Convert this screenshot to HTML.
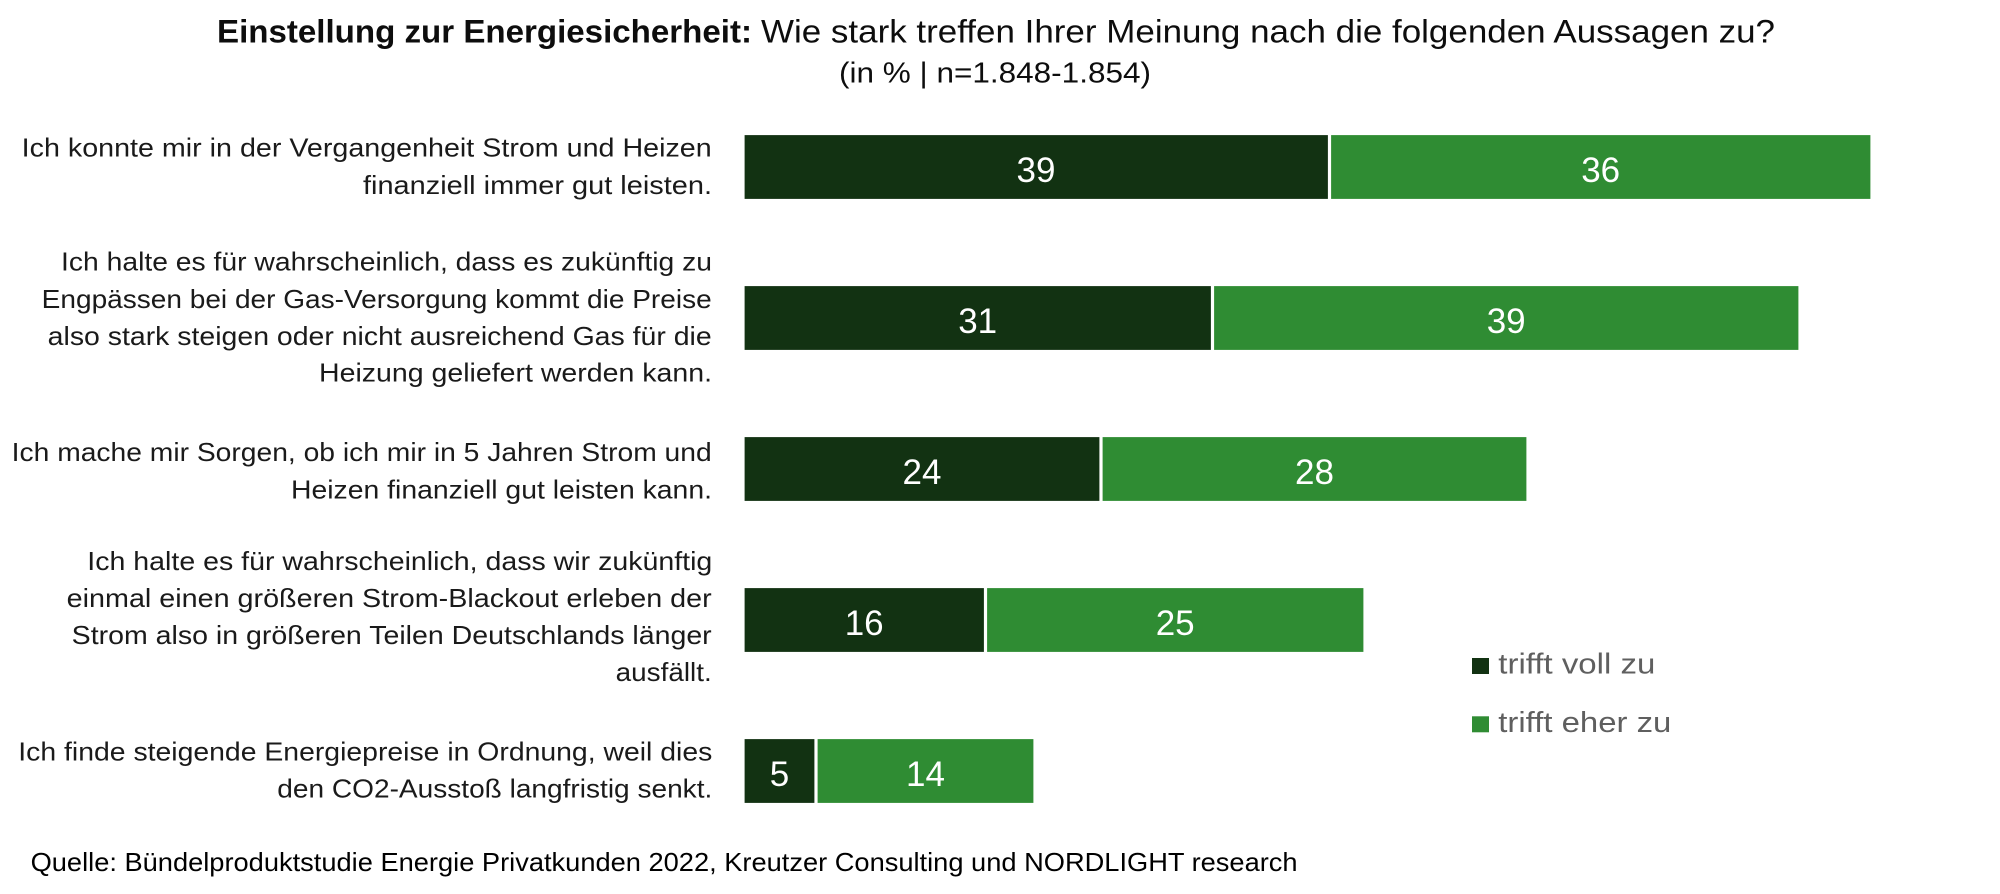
<!DOCTYPE html>
<html>
<head>
<meta charset="utf-8">
<style>
  html, body { margin: 0; padding: 0; background: #ffffff; }
  svg { display: block; }
  .lbl { font-family: "Liberation Sans", "DejaVu Sans", sans-serif; font-size: 26px; fill: #1a1a1a; }
  .val { font-family: "Liberation Sans", "DejaVu Sans", sans-serif; font-size: 35px; fill: #ffffff; text-anchor: middle; }
  .leg { font-family: "Liberation Sans", "DejaVu Sans", sans-serif; font-size: 29px; fill: #5f5f5f; }
  .ttl { font-family: "Liberation Sans", "DejaVu Sans", sans-serif; font-size: 32px; fill: #0d0d0d; }
  .sub { font-family: "Liberation Sans", "DejaVu Sans", sans-serif; font-size: 29px; fill: #0d0d0d; }
  .src { font-family: "Liberation Sans", Arial, sans-serif; font-size: 26px; fill: #000000; }
</style>
</head>
<body>
<svg width="2000" height="894" viewBox="0 0 2000 894" xmlns="http://www.w3.org/2000/svg">
  <rect x="0" y="0" width="2000" height="894" fill="#ffffff"/>

  <!-- Title -->
  <text class="ttl" x="217" y="42.3" font-weight="bold" textLength="535" lengthAdjust="spacingAndGlyphs">Einstellung zur Energiesicherheit:</text>
  <text class="ttl" x="761" y="42.3" textLength="1014" lengthAdjust="spacingAndGlyphs">Wie stark treffen Ihrer Meinung nach die folgenden Aussagen zu?</text>
  <text class="sub" x="839" y="82.7" textLength="312" lengthAdjust="spacingAndGlyphs">(in % | n=1.848-1.854)</text>

  <!-- Category labels -->
  <text class="lbl" x="21.7" y="156.7" textLength="690" lengthAdjust="spacingAndGlyphs">Ich konnte mir in der Vergangenheit Strom und Heizen</text>
  <text class="lbl" x="363" y="194" textLength="349" lengthAdjust="spacingAndGlyphs">finanziell immer gut leisten.</text>

  <text class="lbl" x="61" y="270.7" textLength="651" lengthAdjust="spacingAndGlyphs">Ich halte es für wahrscheinlich, dass es zukünftig zu</text>
  <text class="lbl" x="41.7" y="308" textLength="670" lengthAdjust="spacingAndGlyphs">Engpässen bei der Gas-Versorgung kommt die Preise</text>
  <text class="lbl" x="47.7" y="345" textLength="664" lengthAdjust="spacingAndGlyphs">also stark steigen oder nicht ausreichend Gas für die</text>
  <text class="lbl" x="319" y="381.7" textLength="393" lengthAdjust="spacingAndGlyphs">Heizung geliefert werden kann.</text>

  <text class="lbl" x="11.7" y="461" textLength="700" lengthAdjust="spacingAndGlyphs">Ich mache mir Sorgen, ob ich mir in 5 Jahren Strom und</text>
  <text class="lbl" x="291" y="498.3" textLength="421" lengthAdjust="spacingAndGlyphs">Heizen finanziell gut leisten kann.</text>

  <text class="lbl" x="87.3" y="570" textLength="625" lengthAdjust="spacingAndGlyphs">Ich halte es für wahrscheinlich, dass wir zukünftig</text>
  <text class="lbl" x="66.7" y="607" textLength="645" lengthAdjust="spacingAndGlyphs">einmal einen größeren Strom-Blackout erleben der</text>
  <text class="lbl" x="71.7" y="644" textLength="640" lengthAdjust="spacingAndGlyphs">Strom also in größeren Teilen Deutschlands länger</text>
  <text class="lbl" x="615.7" y="681" textLength="96" lengthAdjust="spacingAndGlyphs">ausfällt.</text>

  <text class="lbl" x="18.3" y="760.3" textLength="694" lengthAdjust="spacingAndGlyphs">Ich finde steigende Energiepreise in Ordnung, weil dies</text>
  <text class="lbl" x="277.3" y="797.6" textLength="435" lengthAdjust="spacingAndGlyphs">den CO2-Ausstoß langfristig senkt.</text>

  <!-- Bars -->
  <g stroke="#ffffff" stroke-width="1.2">
    <rect x="744" y="134.5" width="584.5" height="65" fill="#123212"/>
    <rect x="1330.5" y="134.5" width="540.5" height="65" fill="#2f8c33"/>
    <rect x="744" y="285.5" width="467.5" height="65" fill="#123212"/>
    <rect x="1213.5" y="285.5" width="585.5" height="65" fill="#2f8c33"/>
    <rect x="744" y="436.5" width="356" height="65" fill="#123212"/>
    <rect x="1102" y="436.5" width="425" height="65" fill="#2f8c33"/>
    <rect x="744" y="587.5" width="240.5" height="65" fill="#123212"/>
    <rect x="986.5" y="587.5" width="377.5" height="65" fill="#2f8c33"/>
    <rect x="744" y="738.5" width="71" height="65" fill="#123212"/>
    <rect x="817" y="738.5" width="217" height="65" fill="#2f8c33"/>
  </g>

  <!-- Value labels -->
  <text class="val" x="1036" y="182">39</text>
  <text class="val" x="1600.7" y="182">36</text>
  <text class="val" x="977.7" y="333">31</text>
  <text class="val" x="1506.2" y="333">39</text>
  <text class="val" x="922" y="484">24</text>
  <text class="val" x="1314.5" y="484">28</text>
  <text class="val" x="864.2" y="635">16</text>
  <text class="val" x="1175.2" y="635">25</text>
  <text class="val" x="779.5" y="786">5</text>
  <text class="val" x="925.5" y="786">14</text>

  <!-- Legend -->
  <rect x="1472" y="658" width="17" height="16" fill="#123212"/>
  <text class="leg" x="1498.3" y="673.7" textLength="157" lengthAdjust="spacingAndGlyphs">trifft voll zu</text>
  <rect x="1472" y="716.3" width="17" height="16" fill="#2f8c33"/>
  <text class="leg" x="1498.3" y="732" textLength="173" lengthAdjust="spacingAndGlyphs">trifft eher zu</text>

  <!-- Source -->
  <text class="src" x="30.6" y="871" textLength="1267" lengthAdjust="spacingAndGlyphs">Quelle: Bündelproduktstudie Energie Privatkunden 2022, Kreutzer Consulting und NORDLIGHT research</text>
</svg>
</body>
</html>
